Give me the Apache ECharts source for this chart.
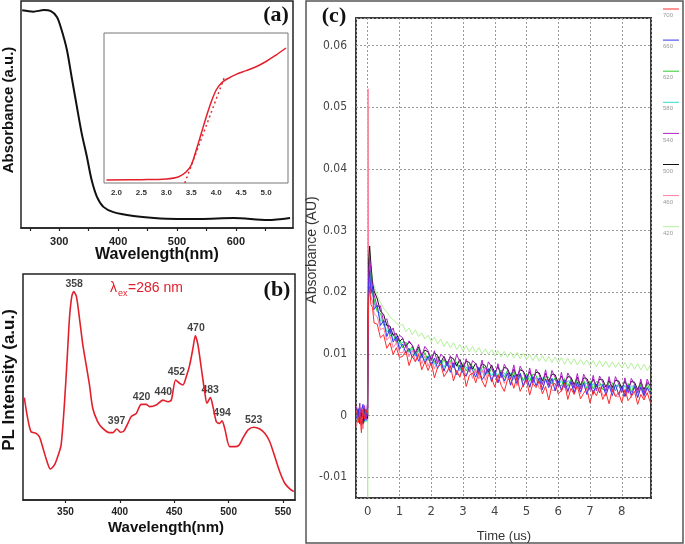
<!DOCTYPE html>
<html>
<head>
<meta charset="utf-8">
<script src="https://cdn.jsdelivr.net/npm/echarts/dist/echarts.min.js"></script>
<style>
html,body{margin:0;padding:0;background:#fff;}
#c{width:685px;height:544px;}
</style>
</head>
<body>
<div id="c"></div>
<script>
// ---------- Panel (a): UV-Vis absorbance ----------
const absWavelength = [237,256,274,285,296,304,313,321,330,338,347,355,364,375,392,426,461,500,539,596,654,692];
const absValue = [0.959,0.953,0.960,0.956,0.930,0.872,0.784,0.665,0.533,0.418,0.313,0.211,0.137,0.093,0.070,0.053,0.044,0.040,0.040,0.044,0.035,0.044];
// inset (photon energy, eV)
const insetEnergy = [1.8,2.5,3.0,3.25,3.4,3.5,3.6,3.7,3.8,3.9,4.0,4.1,4.2,4.4,4.6,4.8,5.0,5.2,5.4];
const insetAbs = [0.02,0.022,0.027,0.042,0.075,0.12,0.22,0.33,0.44,0.54,0.62,0.665,0.69,0.724,0.749,0.775,0.81,0.853,0.9];
const tangentEnergy = [3.37,4.17];
const tangentAbs = [0.0,0.71];

// ---------- Panel (b): PL spectrum ----------
const plWavelength = [312.2,315.3,318.4,323,326,329,332.2,336.2,339.9,342.9,346,349,351.6,353.7,355.8,357.6,360.1,362.9,366,369.1,372.1,375.1,379.7,384.3,390.5,393.6,397.2,400.6,403.7,407.4,410.5,415.1,419.7,424.3,427.3,433.4,439.6,444.2,447.3,451.3,455,458,461.1,464.2,467.2,469.4,471.8,474.9,478,480.1,483.2,485.6,488.7,491.7,493.9,496.4,501,505.6,509.6,513.3,517.9,523.1,528.7,533.2,537.8,542.4,547,551.6,556.2,559.9];
const plIntensity = [0.453,0.361,0.302,0.295,0.28,0.236,0.184,0.137,0.155,0.192,0.243,0.42,0.627,0.804,0.9,0.922,0.9,0.804,0.686,0.597,0.509,0.406,0.346,0.317,0.298,0.298,0.314,0.3,0.305,0.339,0.369,0.383,0.423,0.423,0.413,0.42,0.442,0.435,0.442,0.531,0.516,0.509,0.546,0.597,0.671,0.727,0.686,0.583,0.479,0.428,0.453,0.413,0.346,0.339,0.35,0.317,0.236,0.236,0.243,0.276,0.31,0.322,0.314,0.295,0.258,0.192,0.125,0.074,0.049,0.037];
const peakNm = [358,397,420,440,452,470,483,494,523];
const peakIntensity = [0.922,0.314,0.423,0.442,0.531,0.727,0.453,0.35,0.322];

// ---------- Panel (c): transient absorption (values in 0.001 AU) ----------
const traceNames = ['700','660','620','580','540','500','460','420'];
const timeUs = [-0.35,-0.3,-0.25,-0.2,-0.15,-0.1,-0.05,-0.01,0,0.01,0.03,0.06,0.1,0.15,0.2,0.3,0.4,0.5,0.6,0.7,0.8,0.9,1.0,
1.1,1.2,1.3,1.4,1.5,1.6,1.7,1.8,1.9,2.0,
2.1,2.2,2.3,2.4,2.5,2.6,2.7,2.8,2.9,3.0,
3.1,3.2,3.3,3.4,3.5,3.6,3.7,3.8,3.9,4.0,
4.1,4.2,4.3,4.4,4.5,4.6,4.7,4.8,4.9,5.0,
5.1,5.2,5.3,5.4,5.5,5.6,5.7,5.8,5.9,6.0,
6.1,6.2,6.3,6.4,6.5,6.6,6.7,6.8,6.9,7.0,
7.1,7.2,7.3,7.4,7.5,7.6,7.7,7.8,7.9,8.0,
8.1,8.2,8.3,8.4,8.5,8.6,8.7,8.8,8.9];
const trace700 = [0.8,-1.2,0.5,-2.8,1.0,-0.6,0.9,0.2,0.5,12,19,21,18,17.5,15.0,14.8,12.6,13.1,10.9,11.8,9.9,11.0,9.4,
9.6,10.5,8.1,9.6,8.7,9.9,7.4,8.7,7.3,8.6,
6.1,7.8,8.3,6.3,7.1,8.1,5.6,7.3,6.2,7.8,
4.7,6.5,6.9,5.3,7.0,5.6,4.6,6.6,6.1,4.6,
6.6,4.9,3.9,5.8,6.0,4.4,6.2,3.9,5.0,5.7,
3.3,5.2,4.5,5.6,3.5,4.7,2.5,4.9,5.2,3.5,
4.0,5.2,2.6,4.4,3.4,4.8,2.7,3.6,4.4,2.0,
4.1,3.2,4.6,2.6,3.7,1.9,4.2,3.1,3.7,2.1,
4.2,2.4,3.1,3.9,1.8,3.4,2.5,3.7,2.1];
const trace660 = [-0.5,1.1,-1.4,0.6,1.8,-0.9,0.4,1.2,1.0,14,21,23.5,19.8,21.0,17.2,17.9,14.6,15.4,12.8,14.1,11.9,12.8,10.7,
11.6,10.1,10.9,9.4,10.3,8.8,9.9,8.5,9.6,8.1,
9.3,7.6,8.9,7.2,8.6,7.0,8.5,6.6,8.2,6.9,
6.4,7.9,7.4,6.2,7.8,5.8,6.6,7.6,5.5,7.1,
5.3,7.0,5.6,6.9,4.9,6.6,5.2,6.8,4.7,6.3,
4.6,6.3,4.8,6.1,4.2,5.9,4.5,6.0,4.0,5.6,
4.1,5.7,3.9,5.5,3.6,5.4,3.8,5.3,3.4,5.2,
3.5,5.1,3.7,5.0,3.3,4.9,3.2,5.0,3.4,4.8,
3.1,4.9,3.3,4.7,2.9,4.6,3.2,4.5,3.6];
const trace620 = [0.3,-0.8,1.2,-0.2,0.9,-1.1,0.6,0.1,0.2,15,22,24,22.5,19.8,19.6,16.8,16.6,14.6,14.8,12.9,13.3,11.8,12.3,
11.0,11.9,10.4,11.2,9.7,10.7,9.3,10.2,8.9,9.8,
8.6,9.5,8.2,9.1,8.0,8.9,7.7,8.7,7.5,8.4,
7.2,8.3,8.0,7.1,6.8,7.9,7.7,6.7,7.6,6.5,
6.4,7.4,6.2,7.3,6.0,7.1,5.9,6.9,5.7,6.8,
5.5,6.7,6.5,5.4,5.2,6.3,6.2,5.1,6.1,5.0,
4.8,6.0,4.7,5.9,4.6,5.8,4.5,5.7,4.4,5.6,
4.3,5.5,5.4,4.2,4.1,5.3,5.3,4.0,5.2,4.0,
3.9,5.2,3.8,5.1,3.8,5.0,3.7,5.1,4.0];
const trace580 = [-0.2,0.7,-0.9,1.0,-0.4,0.5,-1.0,0.6,0.4,13,22,25,21.5,20.4,18.2,17.4,15.4,15.2,13.6,13.7,12.3,12.6,11.3,
11.9,11.3,10.2,10.9,9.6,10.4,10.0,8.9,9.7,9.3,
8.3,9.2,8.9,7.8,8.8,7.7,8.6,8.3,7.2,8.2,
7.9,7.0,8.0,6.8,7.6,7.5,6.5,7.4,6.4,7.3,
6.2,7.1,6.9,6.0,6.9,5.8,6.7,6.5,5.6,6.5,
6.3,5.3,6.2,5.2,6.1,5.9,5.0,5.9,5.8,4.8,
5.7,4.7,5.6,5.5,4.5,5.4,4.4,5.3,5.2,4.3,
5.2,4.2,5.1,5.0,4.1,4.9,4.0,4.9,4.8,3.9,
4.9,3.8,4.8,4.7,3.7,4.7,3.6,4.6,4.3];
const trace540 = [1.4,-0.3,2.0,-1.6,0.8,1.6,-0.7,1.9,1.2,16,23,25.5,23.4,20.6,20.8,17.6,17.8,15.1,15.7,13.3,14.2,12.0,13.0,
12.6,11.0,12.1,11.4,10.2,11.5,9.6,11.2,10.5,8.9,
10.5,8.4,9.9,9.5,8.0,9.7,7.8,9.9,8.7,7.3,
9.2,7.1,8.9,8.4,6.9,9.0,6.6,8.7,7.9,6.3,
8.4,6.1,8.3,7.4,5.9,8.2,5.7,8.0,7.0,5.4,
7.7,5.2,7.5,6.6,5.0,7.4,4.9,7.3,6.2,4.6,
7.0,4.5,6.9,5.9,4.4,6.8,4.3,6.7,5.6,4.1,
6.5,4.0,6.4,5.4,3.9,6.3,3.8,6.3,5.2,3.7,
6.1,3.6,6.0,5.1,3.6,5.9,3.5,5.9,4.6];
const trace500 = [0.1,0.9,-0.6,0.4,-1.3,1.1,0.0,-0.5,0.0,16,25,27.5,24.5,21.5,20.2,18.9,16.9,16.4,14.6,14.5,13.0,13.3,12.0,
12.5,11.2,11.9,11.4,10.1,11.1,9.8,10.6,10.3,9.1,
10.2,9.7,8.6,9.6,8.4,9.5,9.2,8.0,9.1,7.8,
8.8,8.6,7.5,8.5,7.2,8.4,8.1,7.0,8.2,6.9,
7.9,6.6,7.8,7.6,6.4,7.5,6.3,7.4,7.2,6.0,
7.1,5.8,7.0,6.9,5.6,6.8,5.5,6.7,6.6,5.3,
6.4,5.2,6.3,6.2,5.0,6.2,4.9,6.1,6.0,4.8,
5.9,4.7,5.9,5.8,4.6,5.7,4.5,5.7,5.6,4.4,
5.6,4.3,5.5,5.4,4.2,5.4,4.2,5.3,4.9];
const trace460 = [-1.8,0.4,-0.7,1.3,-2.2,0.2,1.0,-0.9,-0.5,53,20,22,19.2,18.6,16.5,16.0,13.9,14.2,12.2,12.9,11.0,11.8,10.2,
10.2,11.3,9.5,10.6,8.8,10.1,8.4,9.7,8.0,9.3,
7.6,9.0,8.7,7.3,7.0,8.5,8.2,6.8,6.5,7.9,
6.3,7.8,6.0,7.6,5.9,7.4,5.7,7.3,5.5,7.1,
5.3,6.9,5.2,6.8,5.0,6.6,4.8,6.5,4.7,6.3,
4.5,6.1,6.0,4.4,4.2,5.9,5.8,4.1,4.0,5.6,
3.8,5.5,3.7,5.4,3.6,5.3,3.5,5.2,3.4,5.1,
3.3,5.0,4.9,3.3,3.2,4.8,4.8,3.1,3.0,4.7,
3.0,4.6,2.9,4.6,2.9,4.5,2.8,4.5,3.2];
const trace420 = [0.6,-0.4,0.9,-1.0,0.3,0.8,-0.5,0.4,-13.3,50,24,26,24.5,22,21,19.5,18.3,17.4,16.8,16.0,15.5,15.0,14.6,
14.8,13.6,14.2,13.1,13.9,12.8,13.4,12.4,13.0,12.0,
12.7,11.6,12.4,11.2,12.0,11.0,11.8,10.7,11.5,10.5,
11.3,10.3,11.2,10.2,11.0,10.0,10.8,9.9,10.7,9.7,
10.5,9.5,10.4,9.4,10.3,9.3,10.2,9.2,10.1,9.1,
9.9,8.9,9.8,8.8,9.7,8.7,9.6,8.6,9.5,8.5,
9.4,8.3,9.3,8.3,9.2,8.2,9.1,8.2,9.0,8.1,
8.9,7.9,8.9,7.9,8.8,7.8,8.7,7.8,8.6,7.7,
8.6,7.6,8.5,7.5,8.4,7.4,8.3,7.3,8.2];
const traceValues = {'700':trace700,'660':trace660,'620':trace620,'580':trace580,'540':trace540,'500':trace500,'460':trace460,'420':trace420};
const traceColors = {'700':'#ff2a2a','660':'#3535f0','620':'#2ccc2c','580':'#30dada','540':'#b020c8','500':'#111111','460':'#ff7f9f','420':'#b4f09a'};
const drawOrder = ['420','580','620','460','500','540','660','700'];

// ---------- build ----------
const zip = (xs, ys) => xs.map((x, i) => [x, ys[i]]);
const SANS = '"Liberation Sans", Arial, sans-serif';
const NARROW = '"DejaVu Sans Condensed", "Liberation Sans", sans-serif';
const SERIF = '"Liberation Serif", "Times New Roman", serif';

const cSeries = drawOrder.map(n => ({
  type: 'line', name: n, xAxisIndex: 3, yAxisIndex: 3,
  data: zip(timeUs, traceValues[n]),
  showSymbol: false, symbol: 'none',
  lineStyle: {color: traceColors[n], width: 1},
  itemStyle: {color: traceColors[n]},
  clip: true, z: 2
}));

const legendGraphics = [];
traceNames.forEach((n, i) => {
  const y = 9 + 31.1 * i;
  legendGraphics.push({type: 'line', shape: {x1: 663, y1: y, x2: 679, y2: y}, style: {stroke: traceColors[n], lineWidth: 1}});
  legendGraphics.push({type: 'text', x: 663, y: y + 6.5, style: {text: n, font: '6px ' + SANS, fill: '#999', align: 'left', verticalAlign: 'middle'}});
});

const chart = echarts.init(document.getElementById('c'), null, {renderer: 'canvas'});
chart.setOption({
  animation: false,
  backgroundColor: '#fff',
  grid: [
    {left: 21, top: 1, width: 272, height: 227, show: true, borderColor: '#222', borderWidth: 1.5},
    {left: 104, top: 33, width: 184, height: 150, show: true, borderColor: '#777', borderWidth: 1, backgroundColor: '#fff', z: 3},
    {left: 23, top: 274, width: 272, height: 226, show: true, borderColor: '#222', borderWidth: 1.5},
    {left: 356, top: 18, width: 295, height: 480, show: true, borderColor: '#3a3a3a', borderWidth: 2}
  ],
  xAxis: [
    {gridIndex: 0, type: 'value', min: 235, max: 697, splitNumber: 10,
     axisLine: {show: true, lineStyle: {color: '#222', width: 1.5}},
     axisTick: {show: true, length: 3, lineStyle: {color: '#222', width: 1.2}},
     axisLabel: {formatter: v => (v % 100 === 0 ? String(v) : ''), fontFamily: SANS, fontWeight: 'bold', fontSize: 11, color: '#222', margin: 8, showMinLabel: false, showMaxLabel: false},
     splitLine: {show: false}},
    {gridIndex: 1, type: 'value', min: 1.75, max: 5.44, splitNumber: 7, z: 4,
     axisLine: {show: false}, axisTick: {show: false},
     axisLabel: {formatter: v => v.toFixed(1), fontFamily: SANS, fontWeight: 'bold', fontSize: 8, color: '#333', margin: 6, showMinLabel: false, showMaxLabel: false},
     splitLine: {show: false}},
    {gridIndex: 2, type: 'value', min: 311, max: 561, splitNumber: 5,
     axisLine: {show: true, lineStyle: {color: '#222', width: 1.5}},
     axisTick: {show: true, length: 3, lineStyle: {color: '#222', width: 1.2}},
     axisLabel: {fontFamily: SANS, fontWeight: 'bold', fontSize: 10, color: '#222', margin: 7, showMinLabel: false, showMaxLabel: false},
     splitLine: {show: false}},
    {gridIndex: 3, type: 'value', min: -0.37, max: 8.92, splitNumber: 9,
     axisLine: {show: false}, axisTick: {show: false},
     axisLabel: {fontFamily: NARROW, fontSize: 13, color: '#444', margin: 7, showMinLabel: false, showMaxLabel: false},
     splitLine: {show: true, lineStyle: {color: '#9a9a9a', width: 1, type: [2, 2]}}}
  ],
  yAxis: [
    {gridIndex: 0, type: 'value', min: 0, max: 1, show: false},
    {gridIndex: 1, type: 'value', min: 0, max: 1, show: false},
    {gridIndex: 2, type: 'value', min: 0, max: 1, show: false},
    {gridIndex: 3, type: 'value', min: -13.4, max: 64.5, splitNumber: 8,
     axisLine: {show: false}, axisTick: {show: false},
     axisLabel: {formatter: v => String(v / 1000), fontFamily: NARROW, fontSize: 12, color: '#444', margin: 9, showMinLabel: false, showMaxLabel: false},
     splitLine: {show: true, lineStyle: {color: '#9a9a9a', width: 1, type: [2, 2]}}}
  ],
  series: [
    {type: 'line', xAxisIndex: 0, yAxisIndex: 0, data: zip(absWavelength, absValue), smooth: 0.3, showSymbol: false, symbol: 'none',
     lineStyle: {color: '#111', width: 2}},
    {type: 'line', xAxisIndex: 1, yAxisIndex: 1, data: zip(tangentEnergy, tangentAbs), showSymbol: false, symbol: 'none', z: 5,
     lineStyle: {color: '#e0303a', width: 1.5, type: [2, 3]}},
    {type: 'line', xAxisIndex: 1, yAxisIndex: 1, data: zip(insetEnergy, insetAbs), smooth: 0.35, showSymbol: false, symbol: 'none', z: 6,
     lineStyle: {color: '#e2202c', width: 1.5}},
    {type: 'line', xAxisIndex: 2, yAxisIndex: 2, data: zip(plWavelength, plIntensity), smooth: 0.25, showSymbol: false, symbol: 'none',
     lineStyle: {color: '#e2202c', width: 1.6}},
    {type: 'scatter', xAxisIndex: 2, yAxisIndex: 2, silent: true, symbolSize: 1,
     itemStyle: {color: 'rgba(0,0,0,0)'},
     data: peakNm.map((p, i) => ({value: [p, peakIntensity[i]], name: String(p)})),
     label: {show: true, position: 'top', distance: 1, formatter: '{b}', fontFamily: SANS, fontWeight: 'bold', fontSize: 10.5, lineHeight: 12, color: '#111'}},
    ...cSeries
  ],
  graphic: [
    {type: 'rect', shape: {x: 306, y: 1, width: 377, height: 542}, style: {fill: 'none', stroke: '#555', lineWidth: 1.5}, z: -1},
    {type: 'text', x: 276, y: 15, style: {text: '(a)', font: 'bold 22px ' + SERIF, fill: '#111', align: 'center', verticalAlign: 'middle'}},
    {type: 'text', x: 277, y: 290, style: {text: '(b)', font: 'bold 22px ' + SERIF, fill: '#111', align: 'center', verticalAlign: 'middle'}},
    {type: 'text', x: 334, y: 16, style: {text: '(c)', font: 'bold 22px ' + SERIF, fill: '#111', align: 'center', verticalAlign: 'middle'}},
    {type: 'text', x: 157, y: 255, style: {text: 'Wavelength(nm)', font: 'bold 16px ' + SANS, fill: '#111', align: 'center', verticalAlign: 'middle'}},
    {type: 'text', x: 166, y: 528, style: {text: 'Wavelength(nm)', font: 'bold 15px ' + SANS, fill: '#111', align: 'center', verticalAlign: 'middle'}},
    {type: 'text', x: 9, y: 110, rotation: Math.PI / 2, style: {text: 'Absorbance (a.u.)', font: 'bold 15px ' + SANS, fill: '#111', align: 'center', verticalAlign: 'middle'}},
    {type: 'text', x: 9, y: 380, rotation: Math.PI / 2, style: {text: 'PL Intensity (a.u.)', font: 'bold 17px ' + SANS, fill: '#111', align: 'center', verticalAlign: 'middle'}},
    {type: 'text', x: 110, y: 288, style: {text: 'λ', font: '14px ' + SANS, fill: '#e2202c', align: 'left', verticalAlign: 'middle'}},
    {type: 'text', x: 118, y: 294, style: {text: 'ex', font: '9px ' + SANS, fill: '#e2202c', align: 'left', verticalAlign: 'middle'}},
    {type: 'text', x: 128, y: 288, style: {text: '=286 nm', font: '14px ' + SANS, fill: '#e2202c', align: 'left', verticalAlign: 'middle'}},
    {type: 'text', x: 312, y: 250, rotation: Math.PI / 2, style: {text: 'Absorbance (AU)', font: '14px ' + SANS, fill: '#333', align: 'center', verticalAlign: 'middle'}},
    {type: 'text', x: 504, y: 536, style: {text: 'Time (us)', font: '13px ' + SANS, fill: '#333', align: 'center', verticalAlign: 'middle'}},
    ...legendGraphics
  ]
});
</script>
</body>
</html>
